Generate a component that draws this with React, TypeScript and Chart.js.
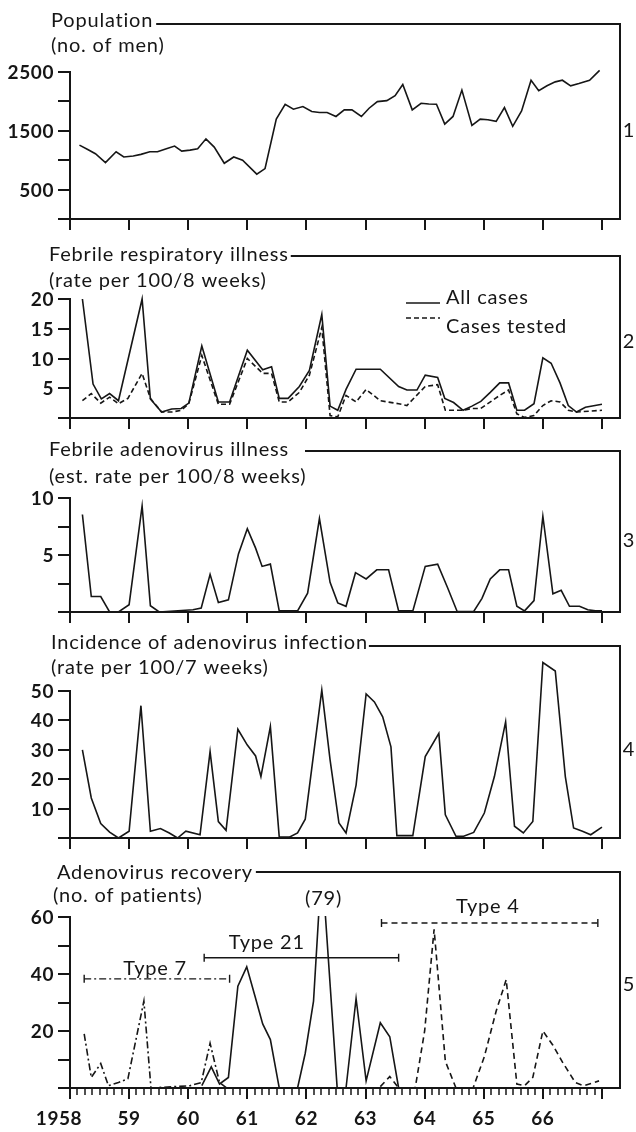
import React, { useEffect, useRef } from "react";
import { Chart, registerables } from "chart.js";

Chart.register(...registerables);

const INK = "#161616";
const FONT = "Lato, 'Open Sans', 'DejaVu Sans', sans-serif";

// ---------- x axis (years) ----------
const YEAR_TICKS = [1958, 1959, 1960, 1961, 1962, 1963, 1964, 1965, 1966, 1967];
const YEAR_LABELS = ["1958", "59", "60", "61", "62", "63", "64", "65", "66"];
const X_MIN = 1958;
const X_MAX = 1967.305;

// ---------- Panel 1: population ----------
const POP_YEARS = [
  1958.16, 1958.3, 1958.43, 1958.6, 1958.78, 1958.91, 1959.07, 1959.2, 1959.35, 1959.48,
  1959.63, 1959.77, 1959.89, 1960.03, 1960.16, 1960.3, 1960.44, 1960.61, 1960.77, 1960.92,
  1961.16, 1961.3, 1961.49, 1961.64, 1961.78, 1961.94, 1962.09, 1962.22, 1962.35, 1962.5,
  1962.64, 1962.77, 1962.93, 1963.06, 1963.2, 1963.36, 1963.5, 1963.63, 1963.79, 1963.94,
  1964.07, 1964.2, 1964.34, 1964.48, 1964.63, 1964.8, 1964.94, 1965.07, 1965.21, 1965.35,
  1965.49, 1965.64, 1965.8, 1965.93, 1966.07, 1966.21, 1966.33, 1966.47, 1966.61, 1966.79,
  1966.96,
];
const POP_MEN = [
  1256, 1183, 1110, 959, 1144, 1055, 1071, 1099, 1144, 1144,
  1195, 1240, 1155, 1172, 1195, 1363, 1223, 948, 1055, 999,
  763, 858, 1700, 1951, 1867, 1912, 1828, 1811, 1811, 1744,
  1856, 1856, 1744, 1884, 1996, 2013, 2097, 2287, 1856, 1968,
  1957, 1951, 1615, 1744, 2192, 1592, 1699, 1688, 1660, 1895,
  1576, 1839, 2360, 2181, 2265, 2332, 2360, 2265, 2304, 2360,
  2528,
];
const POP_TICKS = [2500, 2000, 1500, 1000, 500];
const POP_TICK_LABELS = ["2500", "", "1500", "", "500"];

// ---------- Panel 2: febrile respiratory illness ----------
const FRI_ALL_YEARS = [
  1958.21, 1958.39, 1958.53, 1958.67, 1958.82, 1959.22, 1959.36, 1959.55, 1959.72, 1959.88,
  1960.01, 1960.23, 1960.51, 1960.7, 1961.0, 1961.26, 1961.41, 1961.54, 1961.69, 1961.88,
  1962.05, 1962.26, 1962.4, 1962.53, 1962.67, 1962.84, 1963.25, 1963.56, 1963.7, 1963.87,
  1964.01, 1964.22, 1964.34, 1964.49, 1964.65, 1964.8, 1964.95, 1965.11, 1965.27, 1965.42,
  1965.56, 1965.69, 1965.85, 1966.0, 1966.14, 1966.29, 1966.43, 1966.57, 1966.72, 1967.0,
];
const FRI_ALL = [
  20, 5.7, 3.2, 4.1, 2.9, 20, 3.2, 1.0, 1.5, 1.6,
  2.5, 12.1, 2.7, 2.7, 11.4, 8.1, 8.6, 3.3, 3.3, 5.3,
  8.0, 17.4, 2.0, 1.3, 4.8, 8.2, 8.2, 5.3, 4.7, 4.7,
  7.2, 6.8, 3.3, 2.6, 1.3, 2.0, 2.8, 4.3, 5.9, 5.9,
  1.3, 1.3, 2.4, 10.1, 9.2, 5.9, 2.1, 1.0, 1.8, 2.3,
];
const FRI_TESTED_YEARS = [
  1958.21, 1958.36, 1958.52, 1958.67, 1958.82, 1958.98, 1959.22, 1959.36, 1959.55, 1959.72,
  1959.88, 1960.01, 1960.23, 1960.51, 1960.7, 1961.0, 1961.26, 1961.41, 1961.54, 1961.69,
  1961.88, 1962.05, 1962.26, 1962.4, 1962.53, 1962.67, 1962.84, 1963.01, 1963.25, 1963.56,
  1963.7, 1964.01, 1964.22, 1964.35, 1964.65, 1964.8, 1964.95, 1965.27, 1965.42, 1965.56,
  1965.69, 1965.85, 1966.0, 1966.14, 1966.29, 1966.43, 1966.57, 1967.0,
];
const FRI_TESTED = [
  2.9, 4.1, 2.5, 3.5, 2.4, 3.3, 7.5, 3.3, 1.0, 1.0,
  1.3, 2.4, 10.5, 2.3, 2.3, 10.0, 7.5, 7.5, 2.7, 2.7,
  4.3, 7.2, 15.2, 0.4, 0.2, 3.8, 2.7, 4.8, 2.9, 2.4,
  2.1, 5.3, 5.6, 1.3, 1.3, 1.6, 1.6, 3.8, 4.7, 0.7,
  0.1, 0.4, 2.1, 2.9, 2.7, 1.3, 1.0, 1.3,
];
const FRI_TICKS = [20, 15, 10, 5];
const FRI_TICK_LABELS = ["20", "15", "10", "5"];
const FRI_LEGEND = ["All cases", "Cases tested"];

// ---------- Panel 3: febrile adenovirus illness ----------
const FAI_YEARS = [
  1958.21, 1958.36, 1958.52, 1958.67, 1958.82, 1959.0, 1959.22, 1959.36, 1959.51, 1960.08,
  1960.22, 1960.37, 1960.51, 1960.68, 1960.85, 1961.0, 1961.14, 1961.25, 1961.39, 1961.54,
  1961.85, 1962.02, 1962.22, 1962.4, 1962.53, 1962.67, 1962.83, 1963.01, 1963.19, 1963.39,
  1963.56, 1963.8, 1964.01, 1964.22, 1964.39, 1964.55, 1964.83, 1964.97, 1965.11, 1965.27,
  1965.42, 1965.56, 1965.69, 1965.85, 1966.0, 1966.17, 1966.31, 1966.45, 1966.62, 1966.76,
  1966.89, 1967.0,
];
const FAI_RATE = [
  8.55, 1.36, 1.36, 0, 0, 0.64, 9.3, 0.55, 0, 0.2,
  0.35, 3.3, 0.84, 1.07, 5.1, 7.3, 5.6, 4.0, 4.2, 0.1,
  0.1, 1.65, 8.2, 2.6, 0.8, 0.5, 3.45, 2.9, 3.7, 3.7,
  0.1, 0.1, 4.0, 4.2, 2.1, 0.05, 0.05, 1.2, 2.9, 3.7,
  3.7, 0.5, 0.1, 1.0, 8.4, 1.6, 1.9, 0.5, 0.5, 0.2,
  0.1, 0.1,
];
const FAI_TICKS = [10, 7.5, 5, 2.5];
const FAI_TICK_LABELS = ["10", "", "5", ""];

// ---------- Panel 4: incidence of adenovirus infection ----------
const INC_YEARS = [
  1958.21, 1958.36, 1958.52, 1958.67, 1958.82, 1959.0, 1959.2, 1959.36, 1959.53, 1959.68,
  1959.82, 1959.96, 1960.2, 1960.37, 1960.51, 1960.64, 1960.84, 1961.0, 1961.14, 1961.23,
  1961.39, 1961.54, 1961.71, 1961.85, 1961.98, 1962.26, 1962.4, 1962.55, 1962.67, 1962.84,
  1963.01, 1963.15, 1963.29, 1963.43, 1963.53, 1963.8, 1964.01, 1964.24, 1964.35, 1964.53,
  1964.66, 1964.83, 1965.01, 1965.18, 1965.37, 1965.52, 1965.67, 1965.83, 1966.0, 1966.21,
  1966.38, 1966.52, 1966.67, 1966.81, 1967.0,
];
const INC_RATE = [
  30, 13.6, 4.9, 2, 0, 2.3, 45, 2.3, 3.2, 1.7,
  0, 2.3, 1.1, 29.4, 5.6, 2.6, 37, 31.6, 27.9, 20.9,
  37.9, 0.3, 0.3, 1.7, 6.4, 50.3, 26.6, 5.1, 1.7, 18,
  49, 46.3, 41.2, 31, 0.8, 0.8, 27.7, 35.6, 7.9, 0.6,
  0.6, 1.9, 8.5, 20.9, 39.5, 4, 1.7, 5.6, 59.7, 56.8,
  20.9, 3.4, 2.3, 1.1, 3.7,
];
const INC_TICKS = [50, 40, 30, 20, 10];
const INC_TICK_LABELS = ["50", "40", "30", "20", "10"];

// ---------- Panel 5: adenovirus recovery ----------
const T7_YEARS = [1958.24, 1958.36, 1958.52, 1958.65, 1958.82, 1958.98, 1959.25, 1959.37, 1960.03, 1960.22, 1960.37, 1960.53, 1960.65];
const T7_PATIENTS = [19, 3.7, 8.6, 0.8, 1.9, 3.3, 30.5, 0, 0.8, 1.9, 15.7, 1.9, 0];
const T21_YEARS = [
  1960.23, 1960.39, 1960.53, 1960.68, 1960.84, 1960.99, 1961.13, 1961.26, 1961.39, 1961.54,
  1961.85, 1961.98, 1962.12, 1962.26, 1962.52, 1962.67, 1962.84, 1963.01, 1963.25, 1963.41, 1963.56,
];
const T21_PATIENTS = [0.8, 7.4, 1.4, 3.7, 35.7, 42.5, 32.2, 22.5, 17, 0, 0, 12.2, 30.5, 79, 0, 0, 31.4, 2.5, 22.9, 18, 0];
const T4_YEARS = [
  1963.25, 1963.41, 1963.56, 1963.84, 1964.0, 1964.16, 1964.35, 1964.53, 1964.82, 1965.01,
  1965.21, 1965.38, 1965.56, 1965.69, 1965.83, 1966.0, 1966.17, 1966.34, 1966.55, 1966.69, 1966.95,
];
const T4_PATIENTS = [0.5, 4, 0, 0, 20, 55.7, 9.4, 0, 0, 11, 27, 38, 1.4, 0.8, 3.7, 20, 15, 8.8, 1.9, 0.8, 2.5];
const REC_TICKS = [60, 50, 40, 30, 20, 10];
const REC_TICK_LABELS = ["60", "", "40", "", "20", ""];
const TYPE_NAMES = ["Type 7", "Type 21", "Type 4"];
const TYPE_SPANS = [
  [1958.24, 1960.7],
  [1960.27, 1963.56],
  [1963.27, 1966.93],
];
const TYPE_LEVELS = [38.3, 45.7, 57.9];
const PEAK_NOTE = "(79)";

// ---------- styles ----------
const DASH_SOLID: number[] = [];
const DASH_TESTED = [5, 3];
const DASH_T7 = [7, 3, 2, 3];
const DASH_T4 = [6, 4];

type Series = { xs: number[]; ys: (number | null)[]; dash: number[]; clip: boolean };
type Panel = {
  num: string;
  top: number;
  height: number;
  plotTop: number;
  plotBottom: number;
  yMax: number;
  title: string;
  sub: string;
  titleX: number;
  titleY: number;
  subX: number;
  subY: number;
  lineY: number;
  lineGap: number;
  numY: number;
  ticks: number[];
  tickLabels: string[];
  series: Series[];
  extra?: (ctx: CanvasRenderingContext2D, chart: any, p: Panel) => void;
  minorTicks?: boolean;
  yearLabels?: boolean;
};

const RIGHT = 620;
const LEFT = 70;

function setFont(ctx: CanvasRenderingContext2D, size: number, weight: string, spacing: number) {
  ctx.font = `${weight} ${size}px ${FONT}`;
  (ctx as any).letterSpacing = `${spacing}px`;
}

function text(ctx: CanvasRenderingContext2D, s: string, x: number, y: number, align: CanvasTextAlign) {
  setFont(ctx, 20, "normal", 0.8);
  ctx.textAlign = align;
  ctx.textBaseline = "middle";
  ctx.fillText(s, x, y);
}

function numText(ctx: CanvasRenderingContext2D, s: string, x: number, y: number, align: CanvasTextAlign) {
  setFont(ctx, 19, "bold", 0.6);
  ctx.textAlign = align;
  ctx.textBaseline = "middle";
  ctx.fillText(s, x, y);
}

function legendExtra(ctx: CanvasRenderingContext2D, chart: any, p: Panel) {
  const o = p.top;
  ctx.lineWidth = 1.6;
  ctx.setLineDash(DASH_SOLID);
  ctx.beginPath();
  ctx.moveTo(406, 303 - o);
  ctx.lineTo(440, 303 - o);
  ctx.stroke();
  ctx.setLineDash(DASH_TESTED);
  ctx.beginPath();
  ctx.moveTo(406, 318 - o);
  ctx.lineTo(440, 318 - o);
  ctx.stroke();
  ctx.setLineDash([]);
  text(ctx, FRI_LEGEND[0], 446, 298 - o, "left");
  text(ctx, FRI_LEGEND[1], 446, 327 - o, "left");
}

function typesExtra(ctx: CanvasRenderingContext2D, chart: any, p: Panel) {
  const xs = chart.scales.x;
  const ys = chart.scales.y;
  const dashes = [DASH_T7, DASH_SOLID, DASH_T4];
  const labelAt = [
    [1959.44, 42],
    [1961.33, 51.2],
    [1965.07, 63.8],
  ];
  ctx.lineWidth = 1.4;
  TYPE_NAMES.forEach((name, i) => {
    const x0 = xs.getPixelForValue(TYPE_SPANS[i][0]);
    const x1 = xs.getPixelForValue(TYPE_SPANS[i][1]);
    const y = ys.getPixelForValue(TYPE_LEVELS[i]);
    ctx.setLineDash(dashes[i]);
    ctx.beginPath();
    ctx.moveTo(x0, y);
    ctx.lineTo(x1, y);
    ctx.stroke();
    ctx.setLineDash([]);
    ctx.beginPath();
    ctx.moveTo(x0, y - 4);
    ctx.lineTo(x0, y + 4);
    ctx.moveTo(x1, y - 4);
    ctx.lineTo(x1, y + 4);
    ctx.stroke();
    text(ctx, name, xs.getPixelForValue(labelAt[i][0]), ys.getPixelForValue(labelAt[i][1]), "center");
  });
  text(ctx, PEAK_NOTE, xs.getPixelForValue(1962.29), ys.getPixelForValue(66.4), "center");
}

function decorPlugin(p: Panel) {
  return {
    id: "decor" + p.num,
    afterDraw(chart: any) {
      const ctx: CanvasRenderingContext2D = chart.ctx;
      const xs = chart.scales.x;
      const ys = chart.scales.y;
      const o = p.top;
      const axisY = Math.round(ys.getPixelForValue(0));
      const topY = Math.round(ys.getPixelForValue(p.yMax));
      ctx.save();
      ctx.strokeStyle = INK;
      ctx.fillStyle = INK;
      ctx.lineCap = "butt";
      // titles
      text(ctx, p.title, p.titleX, p.titleY - o, "left");
      const tw = ctx.measureText(p.title).width;
      text(ctx, p.sub, p.subX, p.subY - o, "left");
      // frame: title rule + right border
      ctx.lineWidth = 2;
      ctx.beginPath();
      ctx.moveTo(p.titleX + tw + p.lineGap, p.lineY - o);
      ctx.lineTo(RIGHT, p.lineY - o);
      ctx.lineTo(RIGHT, axisY);
      ctx.stroke();
      // x axis
      ctx.beginPath();
      ctx.moveTo(LEFT - 12, axisY);
      ctx.lineTo(RIGHT + 1, axisY);
      ctx.stroke();
      // y axis
      ctx.beginPath();
      ctx.moveTo(LEFT, topY - 1);
      ctx.lineTo(LEFT, axisY);
      ctx.stroke();
      // y ticks
      p.ticks.forEach((v, i) => {
        const y = Math.round(ys.getPixelForValue(v));
        ctx.beginPath();
        ctx.moveTo(LEFT - 12, y);
        ctx.lineTo(LEFT, y);
        ctx.stroke();
        if (p.tickLabels[i]) numText(ctx, p.tickLabels[i], LEFT - 16, y + 1, "right");
      });
      // x ticks
      YEAR_TICKS.forEach((yr) => {
        const x = Math.round(xs.getPixelForValue(yr));
        ctx.beginPath();
        ctx.moveTo(x, axisY);
        ctx.lineTo(x, axisY + 11);
        ctx.stroke();
      });
      if (p.minorTicks) {
        ctx.lineWidth = 1.5;
        for (let k = 0; k < (YEAR_TICKS.length - 1) * 8; k++) {
          if (k % 8 === 0) continue;
          const x = Math.round(xs.getPixelForValue(YEAR_TICKS[0] + k / 8));
          ctx.beginPath();
          ctx.moveTo(x, axisY);
          ctx.lineTo(x, axisY + 7);
          ctx.stroke();
        }
      }
      if (p.yearLabels) {
        YEAR_LABELS.forEach((s, i) => {
          const x = xs.getPixelForValue(YEAR_TICKS[i]) - (i === 0 ? 11 : 0);
          numText(ctx, s, x, axisY + 31, "center");
        });
      }
      // panel number
      text(ctx, p.num, 629, p.numY - o, "center");
      if (p.extra) p.extra(ctx, chart, p);
      ctx.restore();
    },
  };
}

const PANELS: Panel[] = [
  {
    num: "1", top: 0, height: 240, plotTop: 72, plotBottom: 219, yMax: 2500,
    title: "Population", sub: "(no. of men)", titleX: 51, titleY: 21, subX: 51, subY: 46, lineY: 24, lineGap: 3, numY: 131,
    ticks: POP_TICKS, tickLabels: POP_TICK_LABELS,
    series: [{ xs: POP_YEARS, ys: POP_MEN, dash: DASH_SOLID, clip: false }],
  },
  {
    num: "2", top: 240, height: 195, plotTop: 299, plotBottom: 418, yMax: 20,
    title: "Febrile respiratory illness", sub: "(rate per 100/8 weeks)", titleX: 49, titleY: 255, subX: 49, subY: 281, lineY: 256, lineGap: 2, numY: 342,
    ticks: FRI_TICKS, tickLabels: FRI_TICK_LABELS,
    series: [
      { xs: FRI_ALL_YEARS, ys: FRI_ALL, dash: DASH_SOLID, clip: false },
      { xs: FRI_TESTED_YEARS, ys: FRI_TESTED, dash: DASH_TESTED, clip: false },
    ],
    extra: legendExtra,
  },
  {
    num: "3", top: 435, height: 195, plotTop: 498, plotBottom: 612, yMax: 10,
    title: "Febrile adenovirus illness", sub: "(est. rate per 100/8 weeks)", titleX: 49, titleY: 450, subX: 49, subY: 477, lineY: 451, lineGap: 16, numY: 541,
    ticks: FAI_TICKS, tickLabels: FAI_TICK_LABELS,
    series: [{ xs: FAI_YEARS, ys: FAI_RATE, dash: DASH_SOLID, clip: false }],
  },
  {
    num: "4", top: 630, height: 225, plotTop: 691, plotBottom: 838, yMax: 50,
    title: "Incidence of adenovirus infection", sub: "(rate per 100/7 weeks)", titleX: 51, titleY: 643, subX: 51, subY: 668, lineY: 646, lineGap: 1, numY: 750,
    ticks: INC_TICKS, tickLabels: INC_TICK_LABELS,
    series: [{ xs: INC_YEARS, ys: INC_RATE, dash: DASH_SOLID, clip: false }],
  },
  {
    num: "5", top: 855, height: 277, plotTop: 917, plotBottom: 1088, yMax: 60,
    title: "Adenovirus recovery", sub: "(no. of patients)", titleX: 57, titleY: 873, subX: 53, subY: 896, lineY: 872, lineGap: 3, numY: 985,
    ticks: REC_TICKS, tickLabels: REC_TICK_LABELS,
    series: [
      { xs: T7_YEARS, ys: T7_PATIENTS, dash: DASH_T7, clip: true },
      { xs: T21_YEARS, ys: T21_PATIENTS, dash: DASH_SOLID, clip: true },
      { xs: T4_YEARS, ys: T4_PATIENTS, dash: DASH_T4, clip: true },
    ],
    extra: typesExtra,
    minorTicks: true,
    yearLabels: true,
  },
];

function PanelChart({ p }: { p: Panel }) {
  const ref = useRef<HTMLCanvasElement>(null);
  useEffect(() => {
    const c = ref.current;
    if (!c) return;
    const chart = new Chart(c, {
      type: "line",
      data: {
        datasets: p.series.map((s) => ({
          data: s.xs.map((x, i) => ({ x, y: s.ys[i] })),
          borderColor: INK,
          backgroundColor: INK,
          borderWidth: 1.6,
          borderDash: s.dash,
          pointRadius: 0,
          tension: 0,
          fill: false,
          spanGaps: false,
          clip: s.clip ? 1 : false,
        })) as any,
      },
      options: {
        animation: false,
        responsive: false,
        maintainAspectRatio: false,
        devicePixelRatio: 1,
        events: [],
        layout: {
          padding: {
            left: LEFT,
            right: 636 - RIGHT,
            top: p.plotTop - p.top,
            bottom: p.top + p.height - p.plotBottom,
          },
        },
        scales: {
          x: { type: "linear", min: X_MIN, max: X_MAX, display: false },
          y: { type: "linear", min: 0, max: p.yMax, display: false },
        },
        plugins: { legend: { display: false }, tooltip: { enabled: false }, title: { display: false } },
      } as any,
      plugins: [decorPlugin(p)],
    });
    return () => chart.destroy();
  }, [p]);
  return (
    <canvas
      ref={ref}
      width={636}
      height={p.height}
      style={{ position: "absolute", left: 0, top: p.top, width: 636, height: p.height, display: "block" }}
    />
  );
}

export default function App() {
  return (
    <div style={{ position: "absolute", left: 0, top: 0, width: 636, height: 1132, background: "#fff", overflow: "hidden" }}>
      {PANELS.map((p) => (
        <PanelChart key={p.num} p={p} />
      ))}
    </div>
  );
}
